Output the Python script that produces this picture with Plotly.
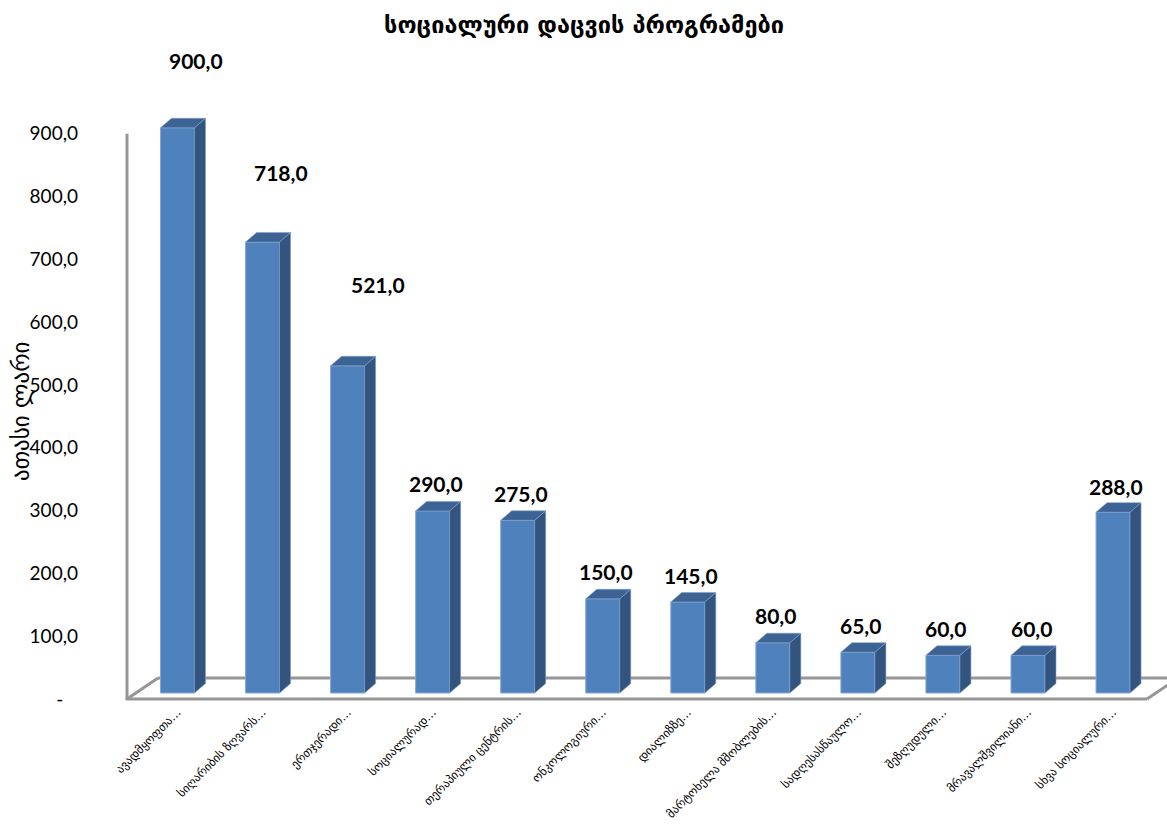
import plotly.graph_objects as go

categories = ["ავადმყოფთა…", "სიღარიბის ზღვარს…", "ერთჯერადი…", "სოციალურად…",
              "თერაპიული ცენტრის…", "ონკოლოგიური…", "დიალიზზე…", "მარტოხელა მშობლების…",
              "სადღესასწაულო…", "შეზღუდული…", "მრავალშვილიანი…", "სხვა სოციალური…"]
values = [900, 718, 521, 290, 275, 150, 145, 80, 65, 60, 60, 288]
y_ticks = [0, 100, 200, 300, 400, 500, 600, 700, 800, 900]
y_tick_text = ["-   "] + [f"{v},0" for v in y_ticks[1:]]
title_text = "სოციალური დაცვის პროგრამები"
y_title = "ათასი ლარი"
label_xshift = [18, 18, 30, 3, 3, 3, 3, 3, 3, 3, 3, 3]
label_yshift = [67, 70, 81, 27, 27, 27, 26, 27, 27, 27, 27, 26]

W, H = 1167, 825
X0, DX = 177.5, 85.05          # pixel of category 0, pixels per category
PY = 0.628                     # pixels per value unit
BAR_ZERO, TICK_ZERO = 693, 699 # pixel rows of value 0 for bars and for the frame
HALF = 17 / DX
DEPTH_X, DEPTH_Y = 11 / DX, 9.5 / PY
FRONT, SIDE, TOP = "#4F81BD", "#32547F", "#3C6394"
GREY = "#969696"
GEO = "DejaVu Sans"
NUM = "Lato"

idx = list(range(len(values)))
xpx = lambda p: (p - X0) / DX

side_x, side_y, top_x, top_y = [], [], [], []
for i, v in zip(idx, values):
    r = i + HALF
    side_x += [r, r + DEPTH_X, r + DEPTH_X, r, r, None]
    side_y += [0, DEPTH_Y, v + DEPTH_Y, v, 0, None]
    l = i - HALF
    top_x += [l, l + DEPTH_X, r + DEPTH_X, r, l, None]
    top_y += [v, v + DEPTH_Y, v + DEPTH_Y, v, v, None]

fig = go.Figure()
fig.add_trace(go.Bar(x=idx, y=values, width=2 * HALF, marker=dict(color=FRONT, line=dict(color="#86A7D3", width=1)),
                     hoverinfo="skip"))
for xs, ys, c in [(side_x, side_y, SIDE), (top_x, top_y, TOP)]:
    fig.add_trace(go.Scatter(x=xs, y=ys, mode="lines", fill="toself", fillcolor=c,
                             line=dict(color="#7F9FC8", width=0.6), hoverinfo="skip"))
fig.add_trace(go.Scatter(x=[0], y=[0], yaxis="y2", mode="markers", marker=dict(opacity=0), hoverinfo="skip"))

# frame of the 3-D chart, in axis units of the tick-aligned axis
fx0, fx1 = xpx(127), xpx(1147)
fdx, fdy = 31 / DX, 21 / PY
line = dict(color=GREY, width=3)
shapes = [
    dict(type="line", xref="x", yref="y2", x0=fx0, x1=fx0, y0=0, y1=900, line=line, layer="below"),
    dict(type="line", xref="x", yref="y2", x0=fx0 - 1.5 / DX, x1=fx1, y0=0, y1=0, line=line, layer="below"),
    dict(type="line", xref="x", yref="y2", x0=fx0, x1=fx0 + fdx, y0=0, y1=fdy, line=line, layer="below"),
    dict(type="line", xref="x", yref="y2", x0=fx1, x1=fx1 + fdx, y0=0, y1=fdy, line=line, layer="below"),
    dict(type="line", xref="x", yref="y2", x0=fx0 + fdx, x1=fx1 + fdx, y0=fdy, y1=fdy, line=line, layer="below"),
]

annotations = [
    dict(x=i, y=v, xref="x", yref="y", text=f"<b>{v},0</b>", showarrow=False,
         xshift=xs, yshift=ys, font=dict(family=NUM, size=21, color="#000000"))
    for i, v, xs, ys in zip(idx, values, label_xshift, label_yshift)
]
annotations.append(dict(x=21 / W, y=1 - 412 / H, xref="paper", yref="paper", xanchor="center", yanchor="middle",
                        text=y_title, textangle=-90, showarrow=False,
                        font=dict(family=GEO, size=23, color="#000000")))

fig.update_layout(
    width=W, height=H, margin=dict(l=0, r=0, t=0, b=0, autoexpand=False), autosize=False,
    paper_bgcolor="white", plot_bgcolor="white", showlegend=False,
    title=dict(text=f"<b>{title_text}</b>", x=584 / W, xanchor="center", y=1 - 25 / H, yanchor="middle",
               font=dict(family=GEO, size=23.5, color="#000000")),
    xaxis=dict(range=[xpx(0), xpx(W)], tickmode="array", tickvals=idx, ticktext=categories, tickangle=-45,
               showgrid=False, zeroline=False, showline=False, ticks="", automargin=False,
               anchor="free", position=1 - 702 / H,
               tickfont=dict(family=GEO, size=11.8, color="#000000")),
    yaxis=dict(range=[(BAR_ZERO - H) / PY, BAR_ZERO / PY], visible=False, fixedrange=True),
    yaxis2=dict(range=[(TICK_ZERO - H) / PY, TICK_ZERO / PY], overlaying="y", side="left",
                anchor="free", position=78 / W, tickmode="array", tickvals=y_ticks, ticktext=y_tick_text,
                showgrid=False, zeroline=False, showline=False, ticks="", automargin=False,
                tickfont=dict(family=NUM, size=19, color="#000000")),
    shapes=shapes, annotations=annotations,
)
fig.write_html("out.html", post_script="document.body.style.margin='0';",
               config=dict(displayModeBar=False))
